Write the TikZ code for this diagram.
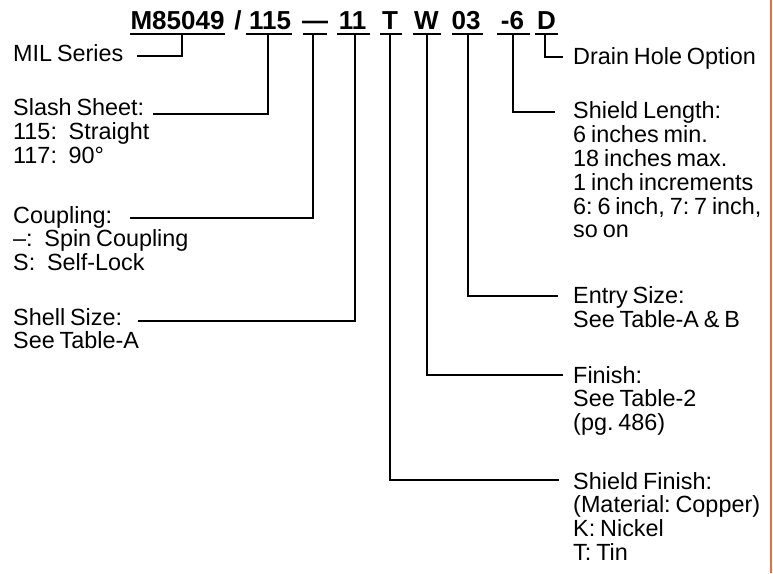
\documentclass[tikz,border=0pt]{standalone}
\usepackage{fontspec}
\setmainfont[WordSpace=0.75]{Liberation Sans}
\newfontfamily\titlefam{Liberation Sans}
\definecolor{rule}{RGB}{238,112,45}
\newcommand{\lns}[1]{\begin{tabular}[t]{@{}l@{}}#1\end{tabular}}
\begin{document}
\frenchspacing
\begin{tikzpicture}[x=1pt,y=-1pt,
  lbl/.style={anchor=base west, inner sep=0pt, font=\fontsize{23.4}{23.4}\selectfont\frenchspacing},
  ttl/.style={anchor=base, inner sep=0pt, font=\titlefam\bfseries\fontsize{26}{26}\selectfont},
  uline/.style={draw=black, line width=1.5pt},
  conn/.style={draw=black, line width=1.5pt}]
\useasboundingbox (0,0) rectangle (773,573);
% right rule
\draw[rule, line width=2.5pt] (771,0) -- (771,573);
% title
\node[ttl] (t1) at (177.5,29) {M85049};
\node[ttl] (t2) at (238,29) {/};
\node[ttl] (t3) at (270,29) {115};
\node[ttl] (t4) at (315,29) {—};
\node[ttl] (t5) at (352.5,29) {11};
\node[ttl] (t6) at (390,29) {T};
\node[ttl] (t7) at (426.5,29) {W};
\node[ttl] (t8) at (466,29) {03};
\node[ttl] (t9) at (512.5,29) {-6};
\node[ttl] (t10) at (546.5,29) {D};
% underlines
\draw[uline] (130,34) -- (225,34);
\draw[uline] (246,34) -- (292,34);
\draw[uline] (303,34) -- (327,34);
\draw[uline] (337,34) -- (370,34);
\draw[uline] (380,34) -- (402,34);
\draw[uline] (413,34) -- (441,34);
\draw[uline] (452,34) -- (483,34);
\draw[uline] (497,34) -- (530,34);
\draw[uline] (535,34) -- (558,34);
% tick start points
\coordinate (u1) at (182,34);
\coordinate (u3) at (268,34);
\coordinate (u4) at (313,34);
\coordinate (u5) at (355,34);
\coordinate (u6) at (390,34);
\coordinate (u7) at (427,34);
\coordinate (u8) at (468,34);
\coordinate (u9) at (513,34);
\coordinate (u10) at (545,34);
% left labels
\node[lbl] (mil) at (13,61) {MIL Series};
\node[lbl] (slash) at (13,115.7) {\lns{Slash Sheet:\\115:\hspace{0.5em}Straight\\117:\hspace{0.5em}90°}};
\node[lbl] (coup) at (13,223) {\lns{Coupling:\\–:\hspace{0.5em}Spin Coupling\\S:\hspace{0.5em}Self-Lock}};
\node[lbl] (shell) at (13,325) {\lns{Shell Size:\\See Table-A}};
% right labels
\node[lbl] (drain) at (573,64) {Drain Hole Option};
\node[lbl] (slen) at (573,118.3) {\lns{Shield Length:\\6 inches min.\\18 inches max.\\1 inch increments\\6: 6 inch, 7: 7 inch,\\so on}};
\node[lbl] (entry) at (573,303.3) {\lns{Entry Size:\\See Table-A \& B}};
\node[lbl] (finish) at (573,383) {\lns{Finish:\\See Table-2\\(pg. 486)}};
\node[lbl] (sfin) at (573,489) {\lns{Shield Finish:\\(Material: Copper)\\K: Nickel\\T: Tin}};
% connector ends
\coordinate (e1) at (137,56);
\coordinate (e3) at (153,114);
\coordinate (e4) at (130,218);
\coordinate (e5) at (138,321);
\coordinate (e6) at (559,480);
\coordinate (e7) at (563,375);
\coordinate (e8) at (558,296);
\coordinate (e9) at (555,112);
\coordinate (e10) at (563,57);
% connectors
\draw[conn] (u1) |- (e1);
\draw[conn] (u3) |- (e3);
\draw[conn] (u4) |- (e4);
\draw[conn] (u5) |- (e5);
\draw[conn] (u6) |- (e6);
\draw[conn] (u7) |- (e7);
\draw[conn] (u8) |- (e8);
\draw[conn] (u9) |- (e9);
\draw[conn] (u10) |- (e10);
\end{tikzpicture}
\end{document}
